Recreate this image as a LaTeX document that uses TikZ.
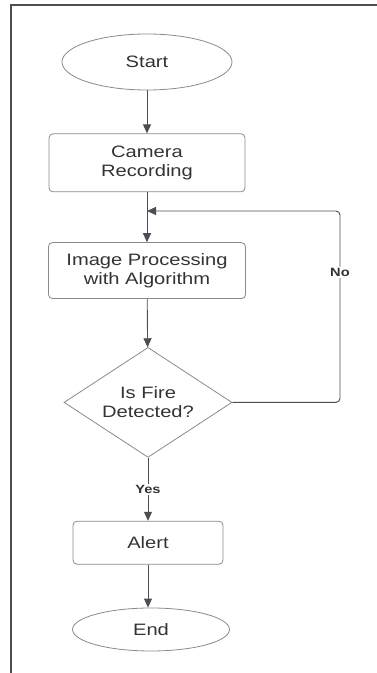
\documentclass[tikz,border=0pt]{standalone}
\usepackage{xcolor}
\usepackage{fontspec}
\usepackage{tikz}
\usetikzlibrary{shapes.geometric,arrows.meta,positioning}
\setmainfont{Liberation Sans}[FakeStretch=1.22]

\definecolor{edgegray}{HTML}{8A8A8A}
\definecolor{linegray}{HTML}{4A4F56}
\definecolor{textgray}{HTML}{333333}

\begin{document}
\begin{tikzpicture}[
    x=1pt, y=1pt,
    term/.style={ellipse, draw=edgegray, line width=0.8pt, text=textgray, inner sep=0pt, font=\fontsize{16.5}{19}\selectfont},
    proc/.style={rectangle, draw=edgegray, line width=0.8pt, rounded corners=4pt, text=textgray, align=center, inner sep=0pt, font=\fontsize{16.5}{19}\selectfont},
    decide/.style={diamond, aspect=1.53, draw=edgegray, line width=0.8pt, text=textgray, align=center, inner sep=0pt, font=\fontsize{16.5}{19}\selectfont},
    arrow/.style={-{Triangle[length=9pt,width=8pt]}, draw=linegray, line width=0.9pt},
    lbl/.style={fill=white, inner sep=1.5pt, text=textgray, font=\fontsize{12}{14}\selectfont\bfseries}
]
    \useasboundingbox (0,0) rectangle (377,673);
    % page frame
    \draw[linegray, line width=1.5pt] (377,668) -- (11,668) -- (11,0);

    % Terminals and steps
    \node[term, minimum width=170pt, minimum height=56pt] (start) at (147,611) {Start};
    \node[proc, minimum width=196pt, minimum height=58pt, below=43pt of start] (cam) {Camera\\Recording};
    \node[proc, minimum width=197pt, minimum height=56pt, below=50pt of cam] (img) {Image Processing\\with Algorithm};
    \node[decide, minimum width=168pt, minimum height=110pt, below=48pt of img, xshift=1pt] (dec) {Is Fire\\Detected?};
    \node[proc, minimum width=150pt, minimum height=43pt, below=63pt of dec] (alert) {Alert};
    \node[term, minimum width=157pt, minimum height=43pt, below=43pt of alert, xshift=3pt] (stop) {End};

    % Loop points
    \coordinate (join) at (147,462);
    \coordinate (loopc) at (340,462);

    % Arrows
    \draw[arrow] (start) -- (cam);
    \draw[arrow] (cam) -- (img);
    \draw[arrow] (img) -- (dec);
    \draw[arrow, rounded corners=4pt] (dec.east) -| node[lbl, pos=0.84] {No} (loopc) -- (join);
    \draw[arrow] (dec.south) -- node[lbl] {Yes} (alert.north);
    \draw[arrow] (alert.south) -- (alert.south |- stop.north);

\end{tikzpicture}
\end{document}
